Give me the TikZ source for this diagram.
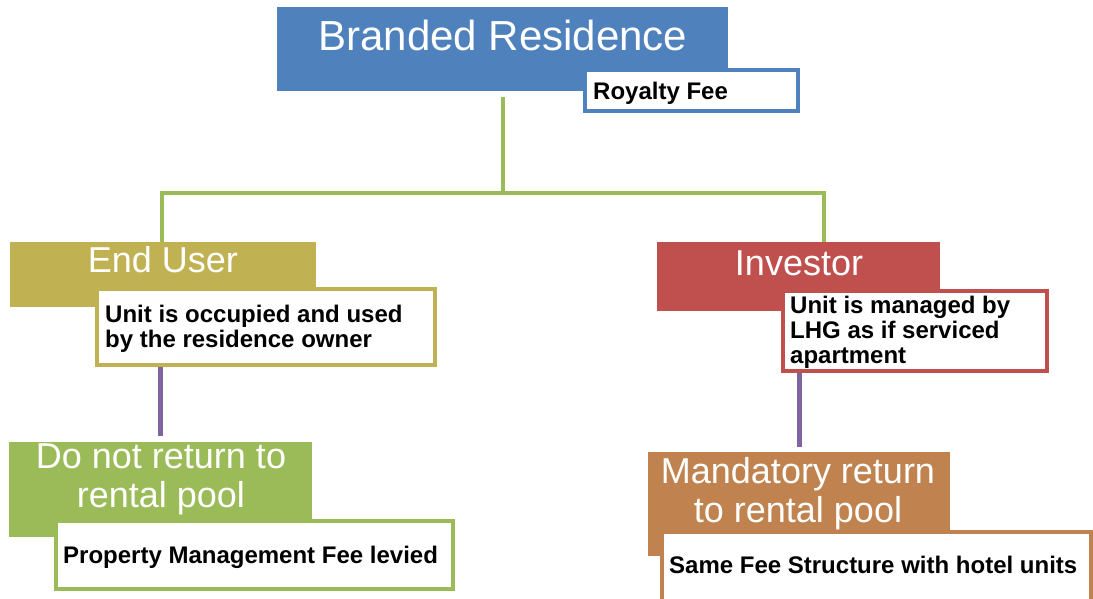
\documentclass[tikz,border=0pt]{standalone}
\usepackage{fontspec}
\setmainfont{Liberation Sans}
\usetikzlibrary{backgrounds}
\definecolor{cblue}{HTML}{4F81BD}
\definecolor{colive}{HTML}{C0B153}
\definecolor{cred}{HTML}{C0504D}
\definecolor{cgreen}{HTML}{9BBB59}
\definecolor{cbrown}{HTML}{C0834F}
\definecolor{cpurple}{HTML}{8064A2}
\begin{document}
\begin{tikzpicture}[x=1pt,y=-1pt,
  boxshape/.style={rectangle, inner sep=0pt, outer sep=0pt, draw=none},
  descbox/.style={rectangle, inner sep=0pt, outer sep=0pt, fill=white, line width=3.5pt},
  lvlone/.style={font=\fontsize{42}{46}\selectfont, text=white, anchor=base, inner sep=0pt},
  lvltwo/.style={font=\fontsize{36}{39}\selectfont, text=white, anchor=base, inner sep=0pt},
  desctext/.style={font=\bfseries\fontsize{24}{25}\selectfont, text=black, anchor=base west, inner sep=0pt},
  greenline/.style={draw=cgreen, line width=4pt},
  purpleline/.style={draw=cpurple, line width=5pt}]
\useasboundingbox (0,0) rectangle (1093,598);
\clip (0,0) rectangle (1093,598);
% main boxes
\node[boxshape, fill=cblue, minimum width=451pt, minimum height=84pt] (br) at (502.5,49) {};
\node[boxshape, fill=colive, minimum width=306pt, minimum height=65pt] (eu) at (163,274.5) {};
\node[boxshape, fill=cred, minimum width=283pt, minimum height=69pt] (inv) at (798.5,276.5) {};
\node[boxshape, fill=cgreen, minimum width=303pt, minimum height=95pt] (dn) at (160.5,489.5) {};
\node[boxshape, fill=cbrown, minimum width=302pt, minimum height=104pt] (mand) at (799,504) {};
% description boxes
\node[descbox, draw=cblue, minimum width=213pt, minimum height=41pt] (rf) at (691.5,90.5) {};
\node[descbox, draw=colive, minimum width=338pt, minimum height=76pt] (eud) at (266,327) {};
\node[descbox, draw=cred, minimum width=264pt, minimum height=80pt] (invd) at (915,331) {};
\node[descbox, draw=cgreen, minimum width=397pt, minimum height=68pt] (pm) at (254.5,555) {};
\node[descbox, draw=cbrown, minimum width=429pt, minimum height=70pt] (sf) at (876.5,567) {};
% texts
\node[lvlone] (brt) at (503,50) {Branded Residence};
\node[lvltwo] (eut) at (163,272) {End User};
\node[lvltwo] (invt) at (799,275) {Investor};
\node[lvltwo] (dnta) at (161,468) {Do not return to};
\node[lvltwo] (dntb) at (161,507) {rental pool};
\node[lvltwo] (manda) at (798,483) {Mandatory return};
\node[lvltwo] (mandb) at (798,522) {to rental pool};
\node[desctext] (rft) at (593,99) {Royalty Fee};
\node[desctext] (euda) at (105,322) {Unit is occupied and used};
\node[desctext] (eudb) at (105,347) {by the residence owner};
\node[desctext] (invda) at (790,313) {Unit is managed by};
\node[desctext] (invdb) at (790,338) {LHG as if serviced};
\node[desctext] (invdc) at (790,363) {apartment};
\node[desctext] (pmt) at (63,563) {Property Management Fee levied};
\node[desctext] (sft) at (669,573) {Same Fee Structure with hotel units};
% connectors
\coordinate (hl) at (162,193);
\coordinate (hr) at (824,193);
\begin{scope}[on background layer]
\draw[greenline] ([yshift=-6pt]br.south) -- (br.south |- hl);
\draw[greenline] (hl |- eu.north) -- (hl) -- (hr) -- (hr |- inv.north);
\draw[purpleline] (dn.north |- eu.south) -- ([yshift=6pt]dn.north);
\draw[purpleline] (mand.north |- inv.south) -- ([yshift=5pt]mand.north);
\end{scope}
\end{tikzpicture}
\end{document}
